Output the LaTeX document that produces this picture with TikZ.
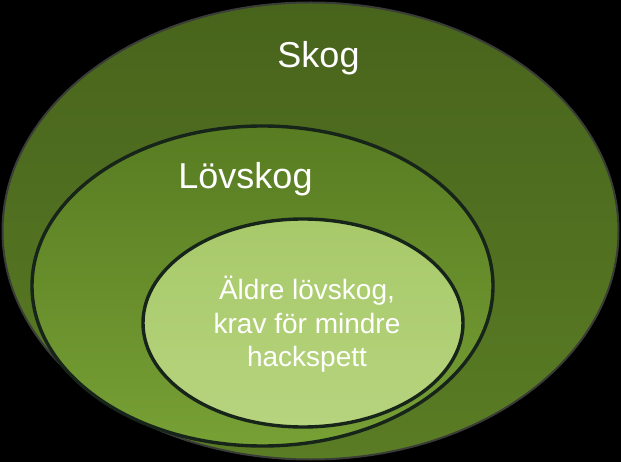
\documentclass[tikz,border=0pt]{standalone}
\usepackage{fontspec}
\setmainfont{Liberation Sans}
\begin{document}
\begin{tikzpicture}[x=1pt,y=-1pt,
  ring/.style={line width=#1},
  lbl/.style={text=white,inner sep=0pt,anchor=base},
]
\definecolor{outerTop}{HTML}{48641C}
\definecolor{outerBot}{HTML}{5A7C24}
\definecolor{midTop}{HTML}{587C22}
\definecolor{midBot}{HTML}{77A035}
\definecolor{innTop}{HTML}{A8C96A}
\definecolor{innBot}{HTML}{B6D47E}
\definecolor{outerLine}{HTML}{3A3C38}
\definecolor{innerLine}{HTML}{17241A}
\fill[black] (0,0) rectangle (621,462);
\useasboundingbox (0,0) rectangle (621,462);
% outer
\shade[top color=outerTop,bottom color=outerBot] (310.5,231) ellipse [x radius=308, y radius=228.5];
\draw[outerLine,ring=2pt] (310.5,231) ellipse [x radius=308, y radius=228.5];
% middle
\shade[top color=midTop,bottom color=midBot] (262.5,286) ellipse [x radius=230.5, y radius=160];
\draw[innerLine,ring=3.4pt] (262.5,286) ellipse [x radius=230.5, y radius=160];
% inner
\shade[top color=innTop,bottom color=innBot] (303,323) ellipse [x radius=160, y radius=104];
\draw[innerLine,ring=3.4pt] (303,323) ellipse [x radius=160, y radius=104];
% labels
\node[lbl,font=\fontsize{36}{40}\selectfont] (skog) at (318.5,68) {Skog};
\node[lbl,font=\fontsize{36}{40}\selectfont] (lov) at (245.5,188.5) {Lövskog};
\node[text=white,inner sep=0pt,align=center,anchor=center,font=\fontsize{28}{33.5}\selectfont] (aldre) at (307,324.5) {Äldre lövskog,\\krav för mindre\\hackspett};
\end{tikzpicture}
\end{document}
